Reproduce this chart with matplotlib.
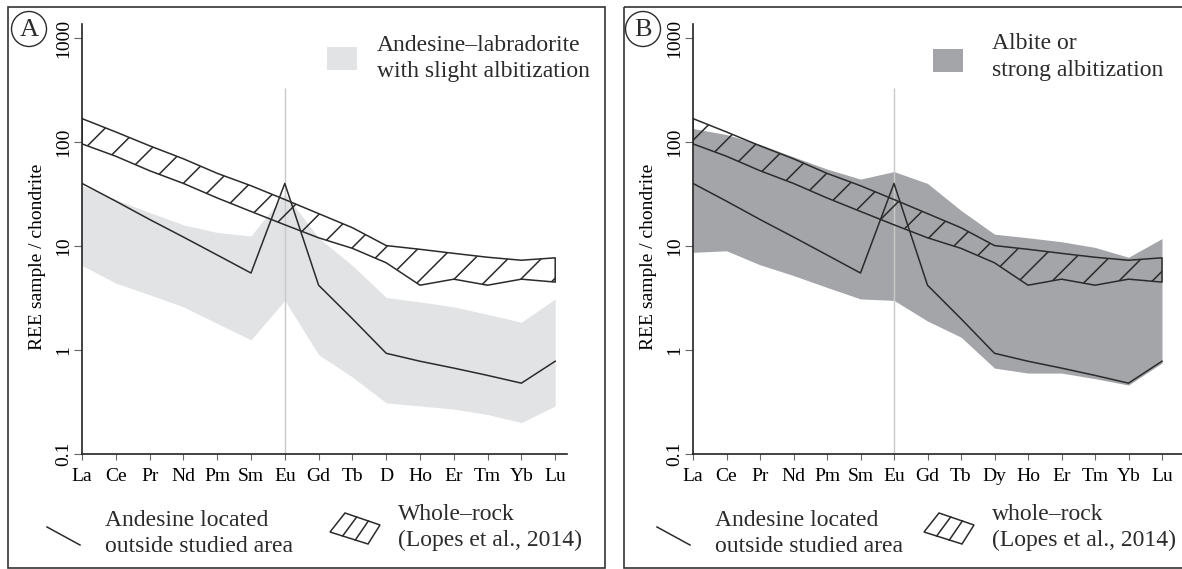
import numpy as np
import matplotlib
matplotlib.use('Agg')
from matplotlib import pyplot as plt
from matplotlib.patches import Rectangle, Circle, Polygon

# REE elements (chondrite normalised)
ree = ['La', 'Ce', 'Pr', 'Nd', 'Pm', 'Sm', 'Eu', 'Gd', 'Tb', 'Dy', 'Ho', 'Er', 'Tm', 'Yb', 'Lu']
labels_a = ['La', 'Ce', 'Pr', 'Nd', 'Pm', 'Sm', 'Eu', 'Gd', 'Tb', 'D', 'Ho', 'Er', 'Tm', 'Yb', 'Lu']
labels_b = ree

# Andesine located outside studied area
andesine = [40, 27, 18, 12.2, 8.2, 5.5, 40, 4.2, 2.0, 0.93, 0.78, 0.67, 0.57, 0.48, 0.78]

# Whole-rock band (Lopes et al., 2014)
wr_upper = [168, 125, 92, 69, 50, 38, 28, 20.5, 15, 10.1, 9.3, 8.5, 7.8, 7.3, 7.7]
wr_lower = [96, 73, 53, 40, 29, 21.5, 16, 12, 9.5, 6.9, 4.2, 4.8, 4.2, 4.8, 4.5]

# Andesine-labradorite with slight albitization (panel A)
slight_upper = [38, 28, 21, 16, 13.5, 12.5, 32, 12, 6.5, 3.2, 2.9, 2.6, 2.2, 1.85, 3.1]
slight_lower = [6.5, 4.4, 3.4, 2.6, 1.8, 1.25, 3.0, 0.9, 0.55, 0.31, 0.29, 0.27, 0.24, 0.2, 0.29]

# Albite or strong albitization (panel B)
strong_upper = [135, 118, 95, 72, 55, 44, 52, 40, 22, 13, 12, 11, 9.7, 7.8, 11.8]
strong_lower = [8.7, 9.0, 6.6, 5.2, 4.0, 3.1, 3.0, 1.9, 1.33, 0.67, 0.6, 0.6, 0.53, 0.46, 0.75]

plt.rcParams['font.family'] = ['Liberation Serif', 'DejaVu Serif']
plt.rcParams['hatch.linewidth'] = 1.1

W, H = 1182, 569
fig = plt.figure(figsize=(W / 100, H / 100), dpi=100)


def rect(x0, ytop, x1, ybot):
    return [x0 / W, 1 - ybot / H, (x1 - x0) / W, (ybot - ytop) / H]


# overlay for frames, panel letters and legend keys (pixel coordinates)
ov = fig.add_axes([0, 0, 1, 1])
ov.set_xlim(0, W)
ov.set_ylim(H, 0)
ov.axis('off')

x = np.arange(len(ree))
ink = '#2b2b2b'


def panel(ax, labels, env_up, env_lo, env_color, xmax):
    ax.fill_between(x, env_lo, env_up, color=env_color, lw=0, zorder=1)
    ax.vlines(6, 0.1, 330, color='#c9c9c9', lw=1.0, zorder=1.5)
    ax.fill_between(x, wr_lower, wr_upper, facecolor='none', edgecolor=ink,
                    hatch='/', lw=1.1, zorder=2)
    ax.plot(x, andesine, color=ink, lw=1.1, zorder=3)
    ax.set_yscale('log')
    ax.set_ylim(0.1, 1365)
    ax.set_xlim(0, xmax)
    ax.set_xticks(x)
    ax.set_xticklabels(labels, fontsize=14)
    ax.set_yticks([0.1, 1, 10, 100, 1000])
    ax.set_yticklabels(['0.1', '1', '10', '100', '1000'], fontsize=14,
                       rotation=90, va='center')
    ax.minorticks_off()
    ax.tick_params(axis='x', length=4, width=0.8, color='#666', pad=6)
    ax.tick_params(axis='y', length=6, width=0.8, color='#666', pad=1)
    for s in ['top', 'right']:
        ax.spines[s].set_visible(False)
    for s in ['left', 'bottom']:
        ax.spines[s].set_linewidth(1.2)
        ax.spines[s].set_color('#222')
    ax.patch.set_alpha(0)
    ax.set_ylabel('REE sample / chondrite', fontsize=14)
    ax.yaxis.set_label_coords(-0.074, 0.458)


light = '#e2e3e5'
dark = '#a3a5a8'

axA = fig.add_axes(rect(82, 24, 567, 454))
panel(axA, labels_a, slight_upper, slight_lower, light, 485 / 33.8)
axB = fig.add_axes(rect(693, 24, 1182, 454))
panel(axB, labels_b, strong_upper, strong_lower, dark, 489 / 33.5)

# frames
ov.add_patch(Rectangle((8, 7), 597, 561, fill=False, lw=1.2, ec='#333'))
ov.add_patch(Rectangle((624, 7), 600, 561, fill=False, lw=1.2, ec='#333'))

# panel letters
for cx, letter in [(29, 'A'), (643, 'B')]:
    ov.add_patch(Circle((cx, 29), 17.5, fill=False, lw=1.0, ec=ink))
    ov.text(cx, 30, letter, fontsize=19, ha='center', va='center', color=ink)

# top legends
ov.add_patch(Rectangle((327, 47), 30, 23, color=light, lw=0))
ov.text(377, 45, 'Andesine\u2013labradorite', fontsize=17, va='center', color=ink)
ov.text(377, 71, 'with slight albitization', fontsize=17, va='center', color=ink)
ov.add_patch(Rectangle((933, 49), 30, 23, color=dark, lw=0))
ov.text(992, 43, 'Albite or', fontsize=17, va='center', color=ink)
ov.text(992, 70, 'strong albitization', fontsize=17, va='center', color=ink)

# bottom legends
for dx, dx2, wr_text in [(0, 0, 'Whole\u2013rock'), (610, 594, 'whole\u2013rock')]:
    ov.plot([47 + dx, 80 + dx], [527, 545], color=ink, lw=1.1)
    ov.text(105 + dx, 520, 'Andesine located', fontsize=17, va='center', color=ink)
    ov.text(105 + dx, 547, 'outside studied area', fontsize=17, va='center', color=ink)
    p = np.array([[345, 513], [380, 525], [368, 544], [330, 532]], float)
    p[:, 0] += dx2
    ov.add_patch(Polygon(p, closed=True, fill=False, ec=ink, lw=1.1))
    for t in (1 / 3, 2 / 3):
        top = p[0] + t * (p[1] - p[0])
        bot = p[3] + t * (p[2] - p[3])
        ov.plot([top[0], bot[0]], [top[1], bot[1]], color=ink, lw=1.1)
    ov.text(398 + dx2, 514, wr_text, fontsize=17, va='center', color=ink)
    ov.text(398 + dx2, 540, '(Lopes et al., 2014)', fontsize=17, va='center', color=ink)

fig.savefig('out.png', dpi=100)
